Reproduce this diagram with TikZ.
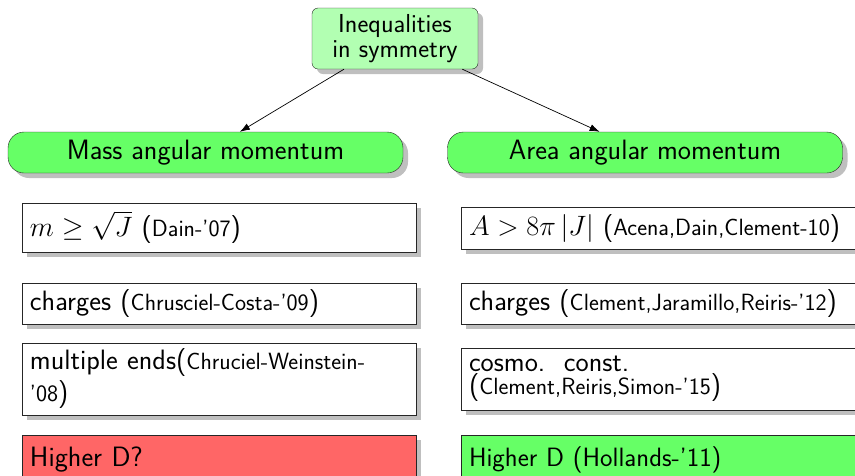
\RequirePackage{fix-cm}
\documentclass[tikz,border=0pt]{standalone}
\usetikzlibrary{shadows,arrows.meta}

% smaller type for the references inside the boxes
\newcommand\citetxt[1]{{\fontsize{23.5}{25}\selectfont #1}}

\tikzset{
  boxshadow/.style={drop shadow={shadow xshift=5pt,shadow yshift=-5pt,fill=black!25,opacity=1}},
  topbox/.style={draw=black!85, fill=green!30, rounded corners=6pt,
    minimum width=166pt, minimum height=61pt, inner sep=0pt, align=center,
    font=\sffamily\fontsize{26}{25}\selectfont, boxshadow},
  heading/.style={draw=black!85, fill=green!60, rounded corners=16pt,
    minimum width=395pt, minimum height=41pt, inner sep=0pt,
    font=\sffamily\fontsize{28}{32}\selectfont, boxshadow},
  item/.style={draw=black!85, fill=white, text width=378pt, inner xsep=8pt,
    inner ysep=2pt, align=left, font=\sffamily\fontsize{28}{32}\selectfont, boxshadow},
  link/.style={-{Latex[length=10pt,width=7pt]}, line width=0.7pt},
}

\begin{document}
\begin{tikzpicture}[x=1pt,y=-1pt]
  \useasboundingbox (0,0) rectangle (855,475);
  \clip (0,0) rectangle (855,475);

  % root
  \node[topbox] (top) at (395,38.5) {Inequalities\\in symmetry};

  % the two branches
  \node[heading] (mass) at (205.5,152.5) {Mass angular momentum};
  \node[heading] (area) at (645,152.5) {Area angular momentum};

  \draw[link] (top) -- (mass);
  \draw[link] (top) -- (area);

  % mass / angular momentum results
  \node[item, minimum height=49pt] (m1) at (219,227.5)
    {$m \geq \sqrt{J}$ (\citetxt{Dain-'07})};
  \node[item, minimum height=41pt] (m2) at (219,303.5)
    {charges (\citetxt{Chrusciel-Costa-'09})};
  \node[item, minimum height=72pt] (m3) at (219,379)
    {multiple ends(\citetxt{Chruciel-Weinstein-}\\\citetxt{'08})};
  \node[item, minimum height=50pt, fill=red!60] (m4) at (219,460)
    {Higher D?};

  % area / angular momentum results
  \node[item, minimum height=42pt] (a1) at (658,228)
    {$A > 8\pi\,|J|$ (\citetxt{Acena,Dain,Clement-10})};
  \node[item, minimum height=41pt] (a2) at (658,303.5)
    {charges (\citetxt{Clement,Jaramillo,Reiris-'12})};
  \node[item, minimum height=62pt] (a3) at (658,379)
    {cosmo.\ \ const.\\[-9pt](\citetxt{Clement,Reiris,Simon-'15})};
  \node[item, minimum height=50pt, fill=green!60,
        font=\sffamily\fontsize{26.5}{30}\selectfont] (a4) at (658,460)
    {Higher D (Hollands-'11)};
\end{tikzpicture}
\end{document}
